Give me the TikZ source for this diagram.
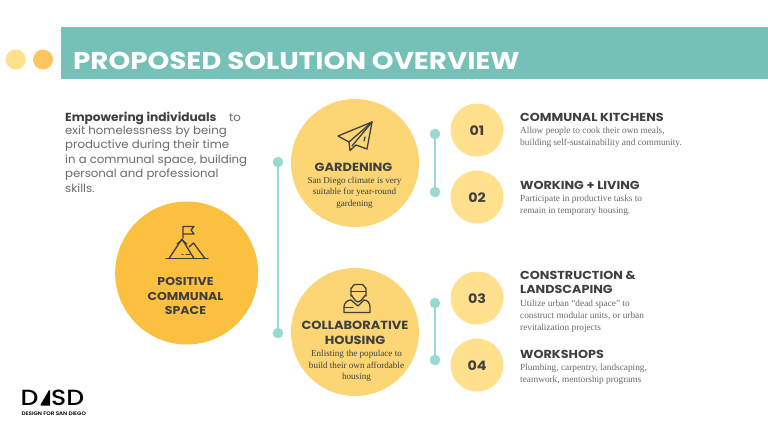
\documentclass[tikz,border=0pt]{standalone}
\usepackage{fontspec}
\setmainfont{Liberation Serif}
\newfontfamily\headf{Poppins}[UprightFont=*-SemiBold,BoldFont=*-Bold,FakeStretch=1.1]
\newfontfamily\titlef{Poppins}[UprightFont=*-Bold,FakeStretch=1.14]
\newfontfamily\bodyf{Poppins}[UprightFont=*,BoldFont=*-Bold,FakeStretch=1.04]
\newfontfamily\logof{Poppins}[UprightFont=*-Medium,FakeStretch=1.14]
\definecolor{hdr}{HTML}{75C1B8}
\definecolor{tealx}{HTML}{9AD8D2}
\definecolor{ambr}{HTML}{FBC040}
\definecolor{midy}{HTML}{FCD674}
\definecolor{paley}{HTML}{FFE08C}
\definecolor{dot2}{HTML}{FFC55F}
\definecolor{inkd}{HTML}{3F3F3F}
\definecolor{inkg}{HTML}{6A6A6A}
\tikzset{
 x=1pt,y=-1pt,
 disc/.style={circle,inner sep=0pt,minimum size=#1,fill},
 tdot/.style={circle,inner sep=0pt,minimum size=10.5pt,fill=tealx},
 numc/.style={circle,inner sep=0pt,minimum size=53pt,fill=paley,text=inkd,font=\headf\bfseries\fontsize{13}{14}\selectfont},
 cent/.style={align=center,inner sep=0pt},
 chead/.style={cent,text=inkd,font=\headf\bfseries\fontsize{11.8}{14.5}\selectfont},
 rhead/.style={anchor=north west,align=left,inner sep=0pt,text=inkd,font=\headf\bfseries\fontsize{11.6}{14.5}\selectfont},
 cbody/.style={cent,text=inkd,font=\fontsize{9.1}{11.4}\selectfont},
 rbody/.style={anchor=north west,align=left,inner sep=0pt,text=inkg,font=\fontsize{9.3}{12}\selectfont},
 tline/.style={draw=tealx,line width=2.6pt},
 icon/.style={draw=inkd,line width=1.3pt,line join=round,line cap=round},
}
\newcommand{\numtxt}[1]{\raisebox{0pt}[11pt][0pt]{#1}}
\begin{document}
\begin{tikzpicture}
\useasboundingbox (0,0) rectangle (768,428);
\fill[white] (0,0) rectangle (768,428);
\fill[hdr] (61,27) rectangle (768,79);
\node[disc=20pt,fill=paley] (d1) at (15.7,59.5) {};
\node[disc=20pt,fill=dot2] (d2) at (43,59.5) {};
\node[anchor=base west,inner sep=0pt,text=white,font=\titlef\fontsize{24.3}{26}\selectfont] (title) at (73,69.5) {PROPOSED SOLUTION OVERVIEW};

\node[anchor=base west,inner sep=0pt,text=inkd,font=\bodyf\bfseries\fontsize{11.7}{14}\selectfont] (lead) at (65,121) {Empowering individuals};
\node[anchor=base west,inner sep=0pt,text=inkg,font=\bodyf\fontsize{11.3}{14}\selectfont] (to) at (229,121) {to};
\node[anchor=north west,align=left,inner sep=0pt,text=inkg,font=\bodyf\fontsize{11.3}{14.5}\selectfont] (para) at (65,125.5) {exit homelessness by being\\productive during their time\\in a communal space, building\\personal and professional\\skills.};

% main connector
\node[tdot] (ta) at (278,162) {};
\node[tdot] (tb) at (278,333) {};
\draw[tline] (ta) -- (tb);
\node[tdot] (a1) at (435,134) {};
\node[tdot] (a2) at (435,192) {};
\draw[tline] (a1) -- (a2);
\node[tdot] (b1) at (435,303) {};
\node[tdot] (b2) at (435,360) {};
\draw[tline] (b1) -- (b2);

% circles
\node[disc=143pt,fill=ambr] (main) at (186.7,273) {};
\node[disc=128pt,fill=midy] (gard) at (355,163) {};
\node[disc=128pt,fill=midy] (coll) at (355,332) {};
\node[numc] (n1) at (477,130) {\numtxt{01}};
\node[numc] (n2) at (477,197) {\numtxt{02}};
\node[numc] (n3) at (477,298) {\numtxt{03}};
\node[numc] (n4) at (477,365) {\numtxt{04}};

% main circle text
\node[chead,font=\headf\bfseries\fontsize{11.4}{14.3}\selectfont] (mt) at (185.5,296) {POSITIVE\\COMMUNAL\\SPACE};
% mountain flag icon
\draw[icon] (166,258.5) -- (208,258.5);
\draw[icon] (169,258.5) -- (182,239) -- (194,258.5);
\draw[icon] (183,238) -- (183,226.5) -- (194,226.5) -- (191,230) -- (194,234) -- (183,234);
\draw[icon] (189,247) -- (193.5,243) -- (205,258.5);
\draw[icon] (177,244) -- (182,240) -- (187,244);
\draw[icon] (182,254.5) -- (183,254.5) (186,254.5) -- (190,254.5);

% gardening
\node[chead] (gt) at (353.5,167.5) {GARDENING};
\node[cbody] (gb) at (354.5,192.5) {San Diego climate is very\\suitable for year-round\\gardening};
\draw[icon] (372,122) -- (338,136) -- (349,142) -- (350,150.5) -- (356,145) -- (367,149) -- cycle;
\draw[icon] (372,122) -- (349,142);
\draw[icon] (372,122) -- (352,146);
\draw[icon] (364,141) -- (365,137);

% collaborative
\node[chead] (ct) at (355,333) {COLLABORATIVE\\HOUSING};
\node[cbody] (cb) at (356.5,366) {Enlisting the populace to\\build their own affordable\\housing};
\draw[icon] (351,296) -- (351,288) to[out=-90,in=180] (355,284.5) -- (362,284.5) to[out=0,in=-90] (366,288) -- (366,296);
\draw[icon] (351,291.5) -- (366,291.5);
\draw[icon] (351,296) to[out=90,in=180] (358,302) to[out=0,in=90] (366,296);
\draw[icon] (351,300) to[out=180,in=90] (344,307) -- (344,312.5) -- (370,312.5) -- (370,307) to[out=90,in=0] (364,300);
\draw[icon] (351,300) -- (358,306) -- (364,300);
\draw[icon] (344,307.5) -- (353,307.5);

% right column
\node[rhead] (h1) at (520,113) {COMMUNAL KITCHENS};
\node[rbody] (t1) at (520,126.5) {Allow people to cook their own meals,\\building self-sustainability and community.};
\node[rhead] (h2) at (520,181) {WORKING + LIVING};
\node[rbody] (t2) at (520,194.5) {Participate in productive tasks to\\remain in temporary housing.};
\node[rhead] (h3) at (520,270.5) {CONSTRUCTION \&\\LANDSCAPING};
\node[rbody] (t3) at (520,299.5) {Utilize urban “dead space” to\\construct modular units, or urban\\revitalization projects};
\node[rhead] (h4) at (520,350) {WORKSHOPS};
\node[rbody] (t4) at (520,364) {Plumbing, carpentry, landscaping,\\teamwork, mentorship programs};

% logo
\node[anchor=base west,inner sep=0pt,text=black,font=\logof\fontsize{22}{23}\selectfont] (lg1) at (20.5,405.5) {D};
\fill[black] (41,405.5) -- (50,390) -- (50,405.5) -- cycle;
\draw[black,line width=1.2pt] (41,405) -- (49.5,390.5);
\node[anchor=base west,inner sep=0pt,text=black,font=\logof\fontsize{22}{23}\selectfont] (lg2) at (51,405.5) {SD};
\node[anchor=base west,inner sep=0pt,text=black,font=\headf\fontsize{5.1}{6}\selectfont] (lg3) at (21.5,415.5) {DESIGN FOR SAN DIEGO};
\end{tikzpicture}
\end{document}
